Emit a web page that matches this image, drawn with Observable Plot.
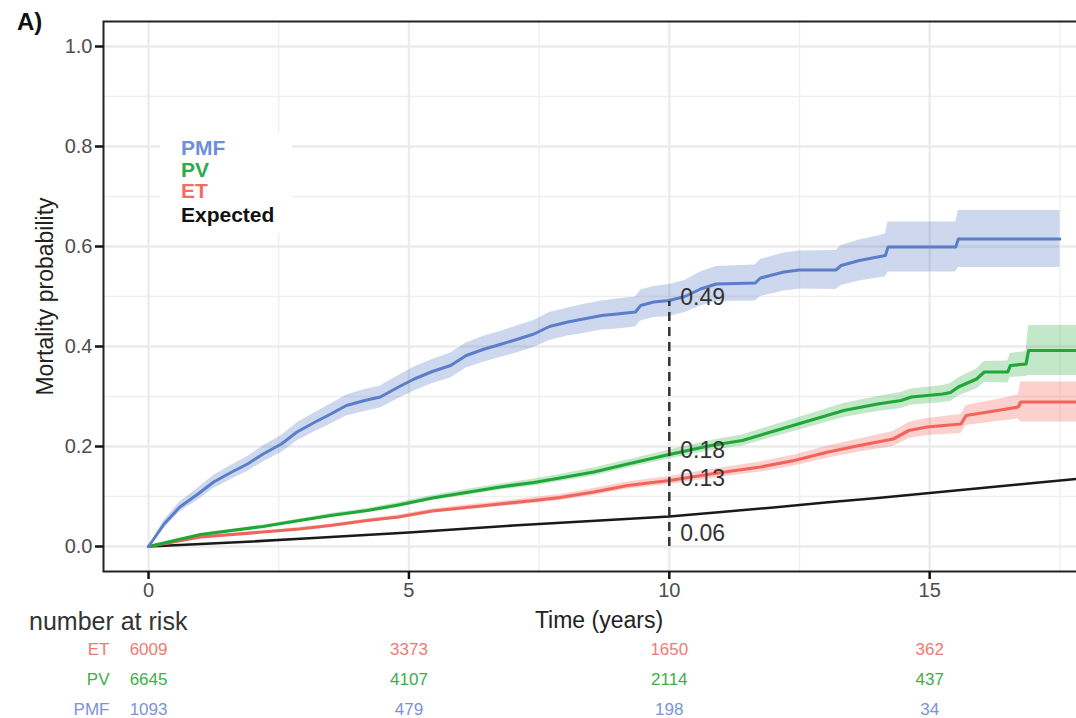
<!DOCTYPE html>
<html><head><meta charset="utf-8">
<script src="https://cdn.jsdelivr.net/npm/d3@7"></script>
<script src="https://cdn.jsdelivr.net/npm/@observablehq/plot@0.6"></script>
<style>
html,body{margin:0;padding:0;background:#fff;overflow:hidden;width:1076px;height:718px;}
body{position:relative;font-family:"Liberation Sans",Arial,Helvetica,sans-serif;}
svg{max-width:none !important;}
#main{position:absolute;left:0;top:0;}
#risk{position:absolute;left:0;top:600px;}
#tag{position:absolute;left:17px;top:8px;font-weight:bold;font-size:24px;line-height:28px;color:#111;}
#legend{position:absolute;left:160px;top:133px;width:132px;height:100px;background:#fff;}
#legend div{position:absolute;left:21px;font-weight:bold;font-size:21px;line-height:19px;white-space:nowrap;}
#nar{position:absolute;left:29px;top:607px;font-size:25px;color:#333;line-height:28px;white-space:nowrap;}
</style></head>
<body>
<div id="main"></div>
<div id="risk"></div>
<div id="tag">A)</div>
<div id="legend"></div>
<div id="nar">number at risk</div>
<script>
// ---------- data ----------
const seriesNames = ["PMF", "PV", "ET", "Expected"];
const seriesColors = {PMF: "#5a7fc8", PV: "#1fa737", ET: "#f2645a", Expected: "#1a1a1a"};
const legendColors = {PMF: "#6f8fd6", PV: "#2eaa48", ET: "#f26d66", Expected: "#111111"};
const tableColors = {ET: "#f07a72", PV: "#3bb04a", PMF: "#7b93d8"};

const pmfTime = [0, 0.3, 0.6, 0.95, 1.25, 1.6, 1.9, 2.2, 2.55, 2.85, 3.2, 3.5, 3.8, 4.15, 4.45, 4.8, 5.1, 5.45, 5.8, 6.1, 6.45, 6.75, 7.1, 7.4, 7.7, 8.05, 8.35, 8.7, 9.0, 9.35, 9.45, 9.7, 10.0, 10.3, 10.6, 10.9, 11.65, 11.75, 12.2, 12.5, 13.2, 13.3, 13.65, 14.0, 14.15, 14.2, 15.5, 15.55, 17.5];
const pmfEst  = [0, 0.045, 0.079, 0.105, 0.129, 0.149, 0.165, 0.185, 0.205, 0.229, 0.249, 0.265, 0.282, 0.292, 0.299, 0.319, 0.335, 0.35, 0.362, 0.382, 0.395, 0.404, 0.415, 0.425, 0.44, 0.449, 0.455, 0.462, 0.465, 0.469, 0.482, 0.489, 0.492, 0.5, 0.515, 0.525, 0.527, 0.537, 0.549, 0.553, 0.553, 0.562, 0.572, 0.579, 0.582, 0.599, 0.599, 0.615, 0.615];
const pmfCI   = [0, 0.008, 0.01, 0.012, 0.013, 0.014, 0.015, 0.016, 0.017, 0.018, 0.019, 0.02, 0.021, 0.022, 0.022, 0.023, 0.024, 0.024, 0.025, 0.025, 0.026, 0.026, 0.027, 0.027, 0.028, 0.028, 0.029, 0.029, 0.03, 0.03, 0.031, 0.031, 0.032, 0.032, 0.034, 0.035, 0.036, 0.037, 0.038, 0.038, 0.039, 0.04, 0.041, 0.042, 0.043, 0.05, 0.05, 0.057, 0.057];

const pvTime = [0, 1, 2.2, 2.9, 3.5, 4.2, 4.8, 5.45, 6.1, 6.75, 7.4, 7.9, 8.55, 9.2, 10.0, 10.8, 11.4, 12.05, 12.7, 13.35, 14.0, 14.45, 14.65, 15.25, 15.4, 15.55, 15.9, 16.05, 16.5, 16.55, 16.85, 16.9, 18.2];
const pvEst  = [0, 0.024, 0.04, 0.052, 0.062, 0.072, 0.083, 0.097, 0.108, 0.119, 0.128, 0.137, 0.149, 0.165, 0.184, 0.202, 0.212, 0.232, 0.252, 0.272, 0.285, 0.292, 0.299, 0.305, 0.308, 0.319, 0.335, 0.349, 0.349, 0.362, 0.365, 0.392, 0.392];
const pvCI   = [0, 0.002, 0.003, 0.003, 0.004, 0.004, 0.005, 0.005, 0.006, 0.006, 0.007, 0.007, 0.008, 0.008, 0.009, 0.01, 0.011, 0.012, 0.013, 0.014, 0.015, 0.016, 0.016, 0.017, 0.018, 0.018, 0.02, 0.021, 0.022, 0.024, 0.025, 0.05, 0.05];

const etTime = [0, 1, 2.2, 2.9, 3.5, 4.2, 4.8, 5.45, 6.1, 6.75, 7.4, 7.9, 8.55, 9.2, 10.0, 10.8, 11.75, 12.4, 13.05, 13.65, 14.3, 14.6, 14.95, 15.6, 15.7, 16.3, 16.7, 16.75, 18.2];
const etEst  = [0, 0.019, 0.029, 0.035, 0.042, 0.052, 0.059, 0.071, 0.078, 0.085, 0.092, 0.098, 0.109, 0.122, 0.132, 0.145, 0.159, 0.172, 0.189, 0.202, 0.215, 0.232, 0.239, 0.245, 0.262, 0.272, 0.279, 0.289, 0.289];
const etCI   = [0, 0.002, 0.002, 0.003, 0.003, 0.003, 0.004, 0.004, 0.005, 0.005, 0.006, 0.006, 0.007, 0.007, 0.008, 0.009, 0.01, 0.011, 0.012, 0.013, 0.015, 0.016, 0.017, 0.019, 0.02, 0.022, 0.024, 0.04, 0.04];

const expTime = [0, 1, 2, 3, 4, 5, 6, 7, 8, 9, 10, 11, 12, 13, 14, 15, 16, 17, 18.2];
const expEst  = [0, 0.005, 0.01, 0.016, 0.022, 0.028, 0.035, 0.042, 0.048, 0.054, 0.06, 0.069, 0.078, 0.088, 0.097, 0.107, 0.117, 0.127, 0.139];

const markTime = 10;
const markLabels = ["0.49", "0.18", "0.13", "0.06"];
const markValues = [0.49, 0.18, 0.13, 0.06];

const riskTimes = [0, 5, 10, 15];
const riskGroups = ["ET", "PV", "PMF"];
const riskET  = [6009, 3373, 1650, 362];
const riskPV  = [6645, 4107, 2114, 437];
const riskPMF = [1093, 479, 198, 34];

const xMajor = [0, 5, 10, 15];
const xMinor = [2.5, 7.5, 12.5, 17.5];
const yMajor = [0, 0.2, 0.4, 0.6, 0.8, 1.0];
const yMinor = [0.1, 0.3, 0.5, 0.7, 0.9];

// ---------- build ----------
const FONT = '"Liberation Sans", Arial, Helvetica, sans-serif';
const xDomain = [-0.865, 18.165];
const yDomain = [-0.05, 1.05];

function rows(ts, es, cis) {
  return ts.map((t, i) => ({t, est: es[i], lo: cis ? Math.max(0, es[i] - cis[i]) : null, hi: cis ? es[i] + cis[i] : null}));
}
const pmf = rows(pmfTime, pmfEst, pmfCI);
const pv = rows(pvTime, pvEst, pvCI);
const et = rows(etTime, etEst, etCI);
const expd = rows(expTime, expEst, null);

const nudges = [-4, -6, -3, 17];

const main = Plot.plot({
  width: 1100, height: 640,
  marginLeft: 103, marginRight: 6, marginTop: 21, marginBottom: 69,
  style: {fontFamily: FONT, background: "white", maxWidth: "none"},
  x: {domain: xDomain},
  y: {domain: yDomain},
  marks: [
    Plot.ruleY(yMinor, {stroke: "#efefef", strokeWidth: 1.4}),
    Plot.ruleX(xMinor, {stroke: "#efefef", strokeWidth: 1.4}),
    Plot.ruleY(yMajor, {stroke: "#ebebeb", strokeWidth: 2.4}),
    Plot.ruleX(xMajor, {stroke: "#ebebeb", strokeWidth: 2.4}),
    Plot.areaY(pmf, {x: "t", y1: "lo", y2: "hi", fill: seriesColors.PMF, fillOpacity: 0.3}),
    Plot.areaY(pv, {x: "t", y1: "lo", y2: "hi", fill: seriesColors.PV, fillOpacity: 0.27}),
    Plot.areaY(et, {x: "t", y1: "lo", y2: "hi", fill: seriesColors.ET, fillOpacity: 0.3}),
    Plot.line(expd, {x: "t", y: "est", stroke: seriesColors.Expected, strokeWidth: 2.6}),
    Plot.line(et, {x: "t", y: "est", stroke: seriesColors.ET, strokeWidth: 3.2}),
    Plot.line(pv, {x: "t", y: "est", stroke: seriesColors.PV, strokeWidth: 3.2}),
    Plot.line(pmf, {x: "t", y: "est", stroke: seriesColors.PMF, strokeWidth: 3}),
    Plot.ruleX([markTime], {y1: 0, y2: markValues[0], stroke: "#333", strokeWidth: 2.5, strokeDasharray: "9,6"}),
    ...markLabels.map((lab, i) => Plot.text([lab], {x: () => markTime, y: () => markValues[i], text: d => d, textAnchor: "start", dx: 11, dy: nudges[i], fontSize: 23, fill: "#333"})),
    Plot.frame({stroke: "#222", strokeWidth: 2}),
    Plot.axisX({ticks: xMajor, tickSize: 8, tickPadding: 3, strokeWidth: 2.5, stroke: "#111", fill: "#4d4d4d", fontSize: 20, label: null}),
    Plot.axisY({ticks: yMajor, tickFormat: d3.format(".1f"), tickSize: 8, tickPadding: 3, strokeWidth: 2.5, stroke: "#111", fill: "#4d4d4d", fontSize: 20, label: null}),
    Plot.text(["Time (years)"], {frameAnchor: "bottom", lineAnchor: "middle", textAnchor: "middle", dy: 49, fontSize: 23, fill: "#222"}),
    Plot.text(["Mortality probability"], {frameAnchor: "left", lineAnchor: "middle", textAnchor: "middle", dx: -58, rotate: -90, fontSize: 23, fill: "#222"})
  ]
});
document.getElementById("main").appendChild(main);

const riskData = {ET: riskET, PV: riskPV, PMF: riskPMF};
const risk = Plot.plot({
  width: 1100, height: 118,
  marginLeft: 103, marginRight: 6, marginTop: 0, marginBottom: 0,
  style: {fontFamily: FONT, background: "transparent", maxWidth: "none"},
  x: {domain: xDomain, axis: null},
  y: {domain: riskGroups, type: "point", range: [49, 109], padding: 0, axis: null},
  marks: riskGroups.flatMap(g => [
    Plot.text(riskTimes, {x: d => d, y: () => g, text: (d, i) => String(riskData[g][i]), fontSize: 17, fill: tableColors[g]}),
    Plot.text([g], {y: d => d, text: d => d, frameAnchor: "left", textAnchor: "end", dx: 6, fontSize: 17, fill: tableColors[g]})
  ])
});
document.getElementById("risk").appendChild(risk);

// legend
const legendTops = {PMF: 5, PV: 27, ET: 48, Expected: 72};
const leg = document.getElementById("legend");
seriesNames.forEach(n => {
  const d = document.createElement("div");
  d.textContent = n;
  d.style.top = legendTops[n] + "px";
  d.style.color = legendColors[n];
  leg.appendChild(d);
});
</script>
</body></html>
